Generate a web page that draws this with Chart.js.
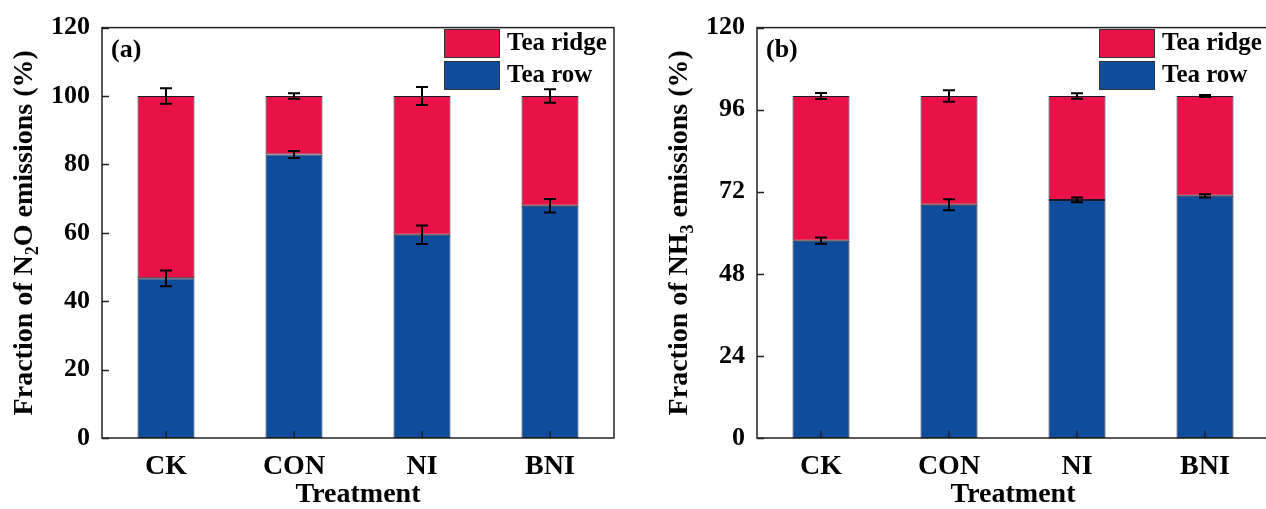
<!DOCTYPE html>
<html>
<head>
<meta charset="utf-8">
<script src="https://cdn.jsdelivr.net/npm/chart.js@4"></script>
<style>
  html, body { margin: 0; padding: 0; background: #fff; overflow: hidden; width: 1266px; height: 509px; }
  canvas { position: absolute; top: 0; }
  #chart-a { left: 0; }
  #chart-b { left: 633px; }
</style>
</head>
<body>
<canvas id="chart-a" width="633" height="509"></canvas>
<canvas id="chart-b" width="640" height="509"></canvas>
<script>
// data
const categories = ['CK', 'CON', 'NI', 'BNI'];
const seriesNames = ['Tea row', 'Tea ridge'];

const n2oRow = [46.7, 82.9, 59.4, 67.9];
const n2oRidge = [53.3, 17.1, 40.6, 32.1];
const n2oRowErr = [2.3, 1.0, 2.7, 2.0];
const n2oRidgeErr = [2.3, 0.8, 2.6, 2.0];
const n2oTickStep = 20;

const nh3Row = [57.7, 68.2, 69.6, 70.8];
const nh3Ridge = [42.3, 31.8, 30.4, 29.2];
const nh3RowErr = [0.9, 1.6, 0.7, 0.5];
const nh3RidgeErr = [0.9, 1.7, 0.8, 0.3];
const nh3TickStep = 24;

const RED = '#E81148';
const BLUE = '#0D4D9B';
const FONT = "'Liberation Serif', 'Times New Roman', serif";

// draws frame, inward ticks, error bars, legend, panel letter and y title
const decorPlugin = {
    id: 'decor',
    afterDatasetsDraw(chart, args, opts) {
        const ctx = chart.ctx;
        const area = chart.chartArea;
        const x = chart.scales.x;
        const y = chart.scales.y;

        // error bars
        ctx.save();
        ctx.strokeStyle = '#000';
        ctx.lineWidth = 2;
        const rowMeta = chart.getDatasetMeta(0);
        categories.forEach((c, i) => {
            const cx = rowMeta.data[i].x;
            const row = chart.data.datasets[0].data[i];
            const top = row + chart.data.datasets[1].data[i];
            [[row, opts.rowErr[i]], [top, opts.ridgeErr[i]]].forEach(([v, e]) => {
                const y1 = y.getPixelForValue(v - e);
                const y2 = y.getPixelForValue(v + e);
                ctx.beginPath();
                ctx.moveTo(cx, y1); ctx.lineTo(cx, y2);
                ctx.moveTo(cx - 6, y1); ctx.lineTo(cx + 6, y1);
                ctx.moveTo(cx - 6, y2); ctx.lineTo(cx + 6, y2);
                ctx.stroke();
            });
        });
        ctx.restore();

        // frame and inward ticks
        ctx.save();
        ctx.strokeStyle = '#222';
        ctx.lineWidth = 1.5;
        ctx.strokeRect(area.left, area.top, area.right - area.left, area.bottom - area.top);
        ctx.beginPath();
        y.ticks.forEach(t => {
            const py = Math.round(y.getPixelForValue(t.value)) + 0.5;
            ctx.moveTo(area.left, py); ctx.lineTo(area.left + 7, py);
        });
        categories.forEach((c, i) => {
            const px = x.getPixelForValue(i);
            ctx.moveTo(px, area.bottom); ctx.lineTo(px, area.bottom - 7);
        });
        ctx.stroke();
        ctx.restore();

        // legend (ridge on top, row below)
        ctx.save();
        const lx = area.right - 170;
        [[1, 29], [0, 61]].forEach(([di, ly]) => {
            const ds = chart.data.datasets[di];
            ctx.fillStyle = ds.backgroundColor;
            ctx.fillRect(lx, ly, 55, 28);
            ctx.strokeStyle = '#333';
            ctx.lineWidth = 1;
            ctx.strokeRect(lx + 0.5, ly + 0.5, 55, 28);
            ctx.fillStyle = '#000';
            ctx.font = 'bold 25px ' + FONT;
            ctx.textBaseline = 'middle';
            ctx.textAlign = 'left';
            ctx.fillText(ds.label, lx + 63, ly + 15);
        });

        // panel letter
        ctx.font = 'bold 26px ' + FONT;
        ctx.fillText(opts.letter, area.left + 9, 50);

        // rotated y title with subscript
        const size = 28;
        const subSize = 18;
        ctx.translate(area.left - 77, (area.top + area.bottom) / 2);
        ctx.rotate(-Math.PI / 2);
        let total = 0;
        opts.title.forEach(p => {
            ctx.font = 'bold ' + (p.sub ? subSize : size) + 'px ' + FONT;
            total += ctx.measureText(p.t).width;
        });
        let cur = -total / 2;
        opts.title.forEach(p => {
            ctx.font = 'bold ' + (p.sub ? subSize : size) + 'px ' + FONT;
            ctx.fillText(p.t, cur, p.sub ? 8 : 0);
            cur += ctx.measureText(p.t).width;
        });
        ctx.restore();
    }
};

function makeChart(id, row, ridge, rowErr, ridgeErr, step, letter, title, padRight, yWidth) {
    return new Chart(document.getElementById(id), {
        type: 'bar',
        data: {
            labels: categories,
            datasets: [
                { label: seriesNames[0], data: row, backgroundColor: BLUE, borderColor: '#1a1a2a', borderWidth: 1, borderSkipped: false },
                { label: seriesNames[1], data: ridge, backgroundColor: RED, borderColor: '#1a1a2a', borderWidth: 1, borderSkipped: false }
            ]
        },
        options: {
            responsive: false,
            devicePixelRatio: 1,
            animation: false,
            datasets: { bar: { categoryPercentage: 1, barPercentage: 0.445 } },
            layout: { padding: { top: 26, right: padRight, bottom: 0, left: 0 } },
            plugins: {
                legend: { display: false },
                tooltip: { enabled: false },
                decor: { rowErr: rowErr, ridgeErr: ridgeErr, letter: letter, title: title }
            },
            scales: {
                x: {
                    stacked: true,
                    grid: { display: false, drawTicks: false, tickLength: 0 },
                    border: { display: false },
                    ticks: { color: '#000', padding: 12, font: { family: FONT, size: 28, weight: 'bold' } },
                    title: { display: true, text: 'Treatment', color: '#000', padding: 0, font: { family: FONT, size: 28, weight: 'bold', lineHeight: 1 } },
                    afterFit: s => { s.height = 71; }
                },
                y: {
                    stacked: true,
                    min: 0,
                    max: 120,
                    grid: { display: false, drawTicks: false, tickLength: 0 },
                    border: { display: false },
                    ticks: { stepSize: step, color: '#000', padding: 12, font: { family: FONT, size: 26, weight: 'bold' } },
                    afterFit: s => { s.width = yWidth; }
                }
            }
        },
        plugins: [decorPlugin]
    });
}

makeChart('chart-a', n2oRow, n2oRidge, n2oRowErr, n2oRidgeErr, n2oTickStep, '(a)',
    [{ t: 'Fraction of N' }, { t: '2', sub: true }, { t: 'O emissions (%)' }], 19, 102);
makeChart('chart-b', nh3Row, nh3Ridge, nh3RowErr, nh3RidgeErr, nh3TickStep, '(b)',
    [{ t: 'Fraction of NH' }, { t: '3', sub: true }, { t: ' emissions (%)' }], 4, 124);
</script>
</body>
</html>
